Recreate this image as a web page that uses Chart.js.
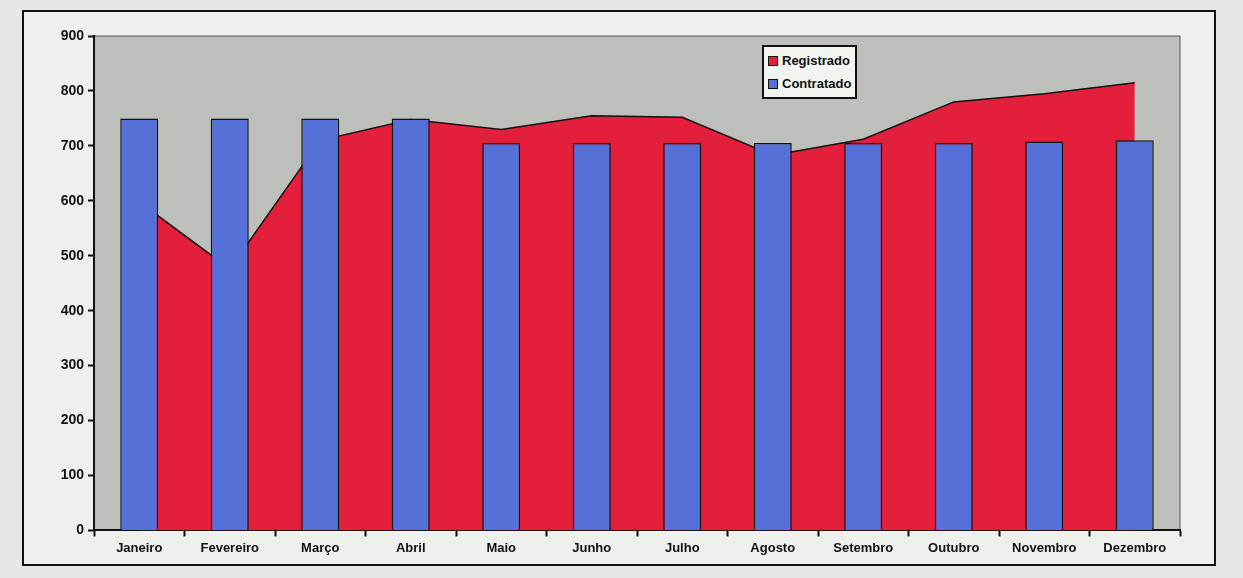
<!DOCTYPE html>
<html>
<head>
<meta charset="utf-8">
<script src="https://cdn.jsdelivr.net/npm/chart.js@4/dist/chart.umd.min.js"></script>
<style>
  html, body { margin: 0; padding: 0; }
  body {
    width: 1243px; height: 578px; overflow: hidden;
    background: #e4e8e2;
    position: relative;
    font-family: "Liberation Sans", Arial, sans-serif;
  }
  #frame {
    position: absolute; left: 22px; top: 10px;
    width: 1190px; height: 552px;
    background: #eef0ec;
    border: 2px solid #111;
  }
  #chartBox { position: absolute; left: 0; top: 0; width: 1190px; height: 552px; }
  #legend {
    position: absolute; left: 738px; top: 33px;
    background: #f2f4ef; border: 2px solid #111;
    padding: 2px 4px 2px 4px;
    font: bold 13px "Liberation Sans", Arial, sans-serif;
    color: #111; line-height: 23px;
  }
  #legend span.box {
    display: inline-block; width: 8px; height: 8px;
    border: 1px solid #111; margin-right: 4px; vertical-align: -1px;
  }
</style>
</head>
<body>
<div id="frame">
  <div id="chartBox"><canvas id="mainChart"></canvas></div>
  <div id="legend"></div>
</div>
<script>
const months = ["Janeiro", "Fevereiro", "Março", "Abril", "Maio", "Junho",
  "Julho", "Agosto", "Setembro", "Outubro", "Novembro", "Dezembro"];
const registrado = [598, 476, 710, 748, 730, 755, 752, 683, 712, 780, 795, 815];
const contratado = [750, 750, 750, 750, 705, 705, 705, 705, 705, 705, 708, 710];
const yTicks = [0, 100, 200, 300, 400, 500, 600, 700, 800, 900];

const redFill = "#e41f3c";
const blueFill = "#5570d6";

// grey plot area behind everything
const plotBackground = {
  id: "plotBackground",
  beforeDraw(chart) {
    const { ctx, chartArea } = chart;
    ctx.save();
    ctx.fillStyle = "#bdbfbb";
    ctx.fillRect(chartArea.left, chartArea.top,
      chartArea.right - chartArea.left, chartArea.bottom - chartArea.top);
    ctx.strokeStyle = "#555";
    ctx.lineWidth = 1;
    ctx.strokeRect(chartArea.left, chartArea.top,
      chartArea.right - chartArea.left, chartArea.bottom - chartArea.top);
    ctx.restore();
  },
};

const ctx = document.getElementById("mainChart").getContext("2d");
const myChart = new Chart(ctx, {
  data: {
    labels: months,
    datasets: [
      {
        type: "line",
        label: "Registrado",
        data: registrado,
        fill: "origin",
        backgroundColor: redFill,
        borderColor: "#111",
        borderWidth: 1.5,
        pointRadius: 0,
        tension: 0,
        order: 2,
      },
      {
        type: "bar",
        label: "Contratado",
        data: contratado,
        backgroundColor: blueFill,
        borderColor: "#111",
        borderWidth: 1.5,
        categoryPercentage: 1,
        barPercentage: 0.42,
        order: 1,
      },
    ],
  },
  options: {
    responsive: true,
    maintainAspectRatio: false,
    animation: false,
    layout: { padding: { top: 24, right: 34, bottom: 4, left: 0 } },
    plugins: {
      legend: { display: false },
      tooltip: { enabled: false },
    },
    scales: {
      x: {
        offset: true,
        grid: {
          offset: true,
          drawOnChartArea: false,
          color: "#111",
          tickLength: 6,
          tickWidth: 2,
        },
        border: { color: "#111", width: 2 },
        ticks: {
          color: "#111",
          padding: 4,
          maxRotation: 0,
          font: { family: "Liberation Sans", size: 13, weight: "bold" },
        },
      },
      y: {
        min: 0,
        max: 900,
        afterBuildTicks(axis) {
          axis.ticks = yTicks.map((v) => ({ value: v }));
        },
        afterFit(axis) {
          axis.width = 70;
        },
        grid: {
          drawOnChartArea: false,
          color: "#111",
          tickLength: 6,
          tickWidth: 2,
        },
        border: { color: "#111", width: 2 },
        ticks: {
          color: "#111",
          padding: 4,
          font: { family: "Liberation Sans", size: 14, weight: "bold" },
        },
      },
    },
  },
  plugins: [plotBackground],
});

// legend box drawn inside the plot area
const legendEl = document.getElementById("legend");
legendEl.innerHTML =
  '<div><span class="box" style="background:' + redFill + '"></span>Registrado</div>' +
  '<div><span class="box" style="background:' + blueFill + '"></span>Contratado</div>';
</script>
</body>
</html>
